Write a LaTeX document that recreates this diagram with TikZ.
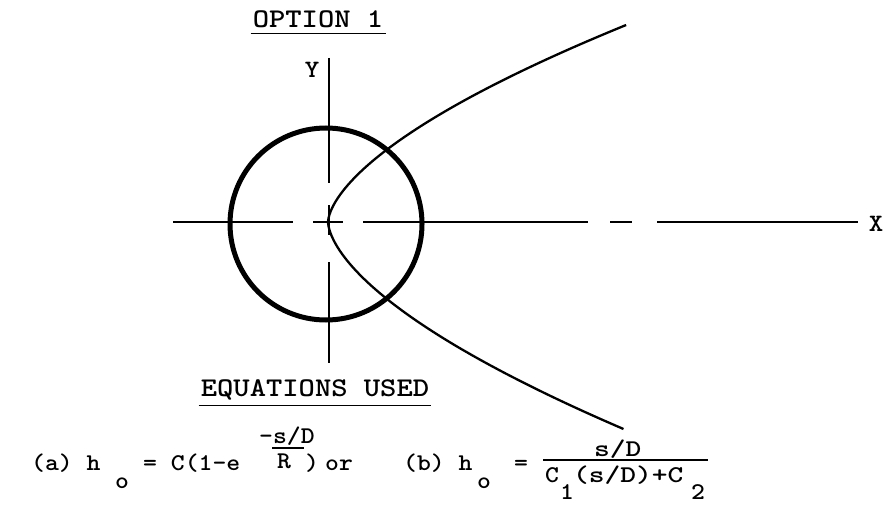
\documentclass[tikz,border=0pt]{standalone}
\usepackage{graphicx}
\usepackage{tikz}

% wide typewriter letters
\newcommand{\tw}[2][1.1]{\scalebox{#1}[1]{\ttfamily\bfseries #2}}

\tikzset{
  axisline/.style  = {line width=2.3pt},
  ringline/.style  = {line width=5pt},
  pathline/.style  = {line width=2.3pt},
  ruleline/.style  = {line width=1.3pt},
  headtext/.style  = {inner sep=0pt, anchor=base, font=\fontsize{27}{30}\selectfont},
  axistext/.style  = {inner sep=0pt, font=\fontsize{25}{28}\selectfont},
  eqtext/.style    = {inner sep=0pt, anchor=base west, font=\fontsize{24}{26}\selectfont}
}

\begin{document}
\begin{tikzpicture}[x=1pt, y=-1pt]
  \useasboundingbox (0,0) rectangle (890,513);

  % circle and axes
  \coordinate (O) at (328,222);
  \draw[ringline] (326,224) circle[radius=96pt];
  \foreach \a/\b in {58/183, 205/235, 262/363}
    \draw[axisline] (329,\a) -- (329,\b);
  \foreach \a/\b in {173/293, 313/343, 363/588, 610/632, 657/858}
    \draw[axisline] (\a,222) -- (\b,222);

  % curve through the centre
  \draw[pathline]
    plot[domain=197:0.5, samples=60] ({328+0.0572*pow(\x,1.62)}, {222-\x})
    -- plot[domain=0.5:207, samples=60] ({328+0.0496*pow(\x,1.63)}, {222+\x});

  % labels
  \node[axistext] (ylab) at (312,70) {\tw{Y}};
  \node[axistext] (xlab) at (876,224) {\tw{X}};

  \node[headtext] (title) at (318,28) {\tw[1.15]{OPTION 1}};
  \draw[ruleline] ([xshift=-2pt, yshift=-5pt]title.south west) -- ([xshift=3pt, yshift=-5pt]title.south east);

  \node[headtext] (eqhead) at (315,396) {\tw[1.15]{EQUATIONS USED}};
  \draw[ruleline] ([xshift=-2pt, yshift=-6pt]eqhead.south west) -- ([xshift=2pt, yshift=-6pt]eqhead.south east);

  % equation (a)
  \node[eqtext] (ea1) at (31,470)  {\tw{(a) h}};
  \node[eqtext] (ea2) at (115,488) {\tw{o}};
  \node[eqtext] (ea3) at (143,470) {\tw{= C(1-e}};
  \node[eqtext, text depth=0pt] (ea4) at (259,443) {\tw{-s/D}};
  \node[eqtext] (ea5) at (277,468) {\tw{R}};
  \draw[ruleline] (272,448) -- (304,448);
  \node[eqtext] (ea6) at (305,470) {\tw{)}};
  \node[eqtext] (ea7) at (325,470) {\tw{or}};

  % equation (b)
  \node[eqtext] (eb1) at (403,470) {\tw{(b) h}};
  \node[eqtext] (eb2) at (477,488) {\tw{o}};
  \node[eqtext] (eb3) at (514,470) {\tw{=}};
  \node[eqtext, text depth=0pt] (eb4) at (594,456) {\tw[1.25]{s/D}};
  \draw[ruleline] (543,460) -- (708,460);
  \node[eqtext] (eb5) at (545,482) {\tw{C}};
  \node[eqtext] (eb6) at (560,499) {\tw{1}};
  \node[eqtext] (eb7) at (573,482) {\tw[1.25]{(s/D)+C}};
  \node[eqtext] (eb8) at (691,499) {\tw{2}};
\end{tikzpicture}
\end{document}
